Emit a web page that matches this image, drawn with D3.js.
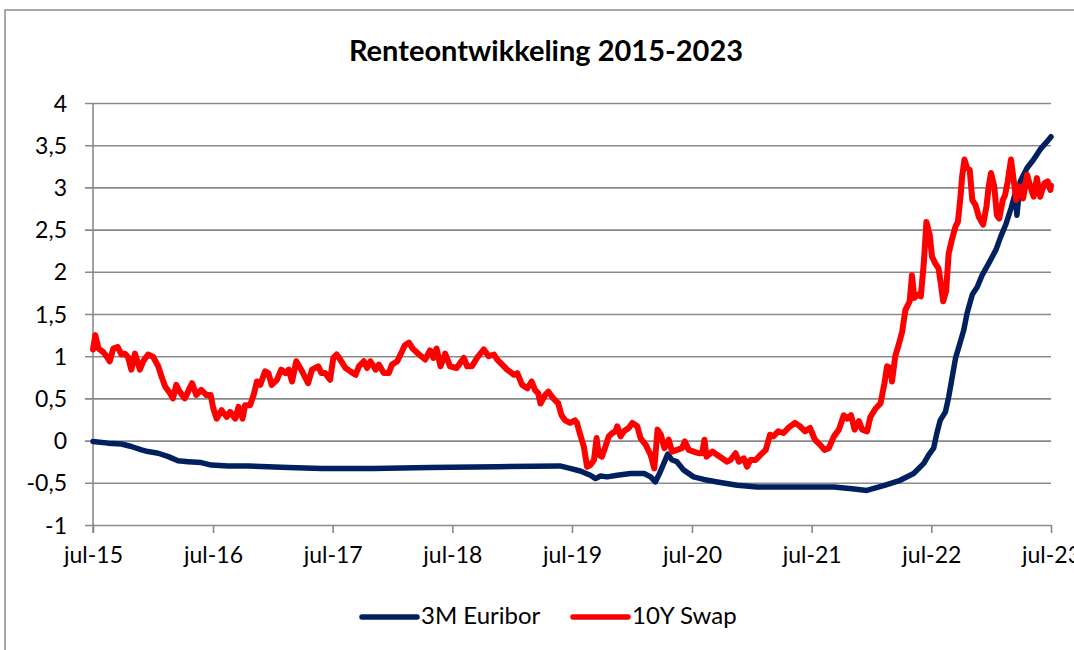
<!DOCTYPE html>
<html>
<head>
<meta charset="utf-8">
<script src="https://cdn.jsdelivr.net/npm/d3@7"></script>
<style>
  body { margin: 0; background: #fff; }
  svg { display: block; font-family: Lato, "Open Sans", sans-serif; }
</style>
</head>
<body>
<div id="chart"></div>
<script>
// Renteontwikkeling 2015-2023: 3M Euribor vs 10Y Swap

const title = 'Renteontwikkeling 2015-2023';
const seriesNames = ['3M Euribor', '10Y Swap'];
const seriesColors = ['#002060', '#ff0000'];

const yTicks = [-1, -0.5, 0, 0.5, 1, 1.5, 2, 2.5, 3, 3.5, 4];
const xTickDates = ['2015-07-01', '2016-07-01', '2017-07-01', '2018-07-01', '2019-07-01',
                    '2020-07-01', '2021-07-01', '2022-07-01', '2023-07-01'];
const xTickLabels = ['jul-15', 'jul-16', 'jul-17', 'jul-18', 'jul-19', 'jul-20', 'jul-21', 'jul-22', 'jul-23'];

// 3M Euribor
const euriborDates = [
  '2015-07-01', '2015-08-16', '2015-09-26', '2015-10-26', '2015-11-26', '2015-12-16',
  '2016-01-16', '2016-02-16', '2016-03-16', '2016-04-16', '2016-05-26', '2016-06-26',
  '2016-08-16', '2016-10-16', '2016-12-16', '2017-02-16', '2017-05-28', '2017-11-01',
  '2018-04-24', '2018-11-15', '2019-05-25', '2019-06-25', '2019-07-26', '2019-08-26',
  '2019-09-11', '2019-09-26', '2019-10-16', '2019-11-16', '2019-12-26', '2020-02-06',
  '2020-02-26', '2020-03-11', '2020-03-24', '2020-04-06', '2020-04-18', '2020-05-01',
  '2020-05-16', '2020-06-06', '2020-07-06', '2020-08-06', '2020-09-16', '2020-11-16',
  '2021-01-16', '2021-04-06', '2021-07-16', '2021-09-07', '2021-11-01', '2021-12-16',
  '2022-02-08', '2022-03-28', '2022-05-08', '2022-06-08', '2022-06-23', '2022-07-08',
  '2022-07-18', '2022-07-28', '2022-08-13', '2022-08-23', '2022-09-03', '2022-09-13',
  '2022-09-26', '2022-10-08', '2022-10-18', '2022-11-03', '2022-11-18', '2022-12-03',
  '2022-12-23', '2023-01-14', '2023-01-29', '2023-02-14', '2023-03-01', '2023-03-14',
  '2023-03-19', '2023-03-29', '2023-04-19', '2023-05-09', '2023-05-29', '2023-06-16',
  '2023-07-01'
];
const euriborValues = [
  -0.01, -0.03, -0.04, -0.07, -0.11, -0.13,
  -0.15, -0.19, -0.24, -0.25, -0.26, -0.29,
  -0.30, -0.30, -0.31, -0.32, -0.33, -0.33,
  -0.32, -0.31, -0.30, -0.33, -0.36, -0.41,
  -0.45, -0.42, -0.43, -0.41, -0.39, -0.39,
  -0.43, -0.49, -0.39, -0.27, -0.16, -0.23,
  -0.25, -0.35, -0.43, -0.46, -0.49, -0.53,
  -0.55, -0.55, -0.55, -0.55, -0.57, -0.59,
  -0.53, -0.47, -0.39, -0.27, -0.17, -0.09,
  0.09, 0.24, 0.34, 0.52, 0.76, 0.98,
  1.15, 1.31, 1.51, 1.73, 1.82, 1.96,
  2.10, 2.26, 2.42, 2.57, 2.75, 2.93,
  2.67, 3.07, 3.23, 3.33, 3.45, 3.53,
  3.60
];

// 10Y Swap
const swapDates = [
  '2015-07-01', '2015-07-08', '2015-07-18', '2015-08-01', '2015-08-11', '2015-08-21',
  '2015-09-01', '2015-09-14', '2015-09-26', '2015-10-06', '2015-10-16', '2015-10-26',
  '2015-11-06', '2015-11-21', '2015-12-01', '2015-12-16', '2016-01-01', '2016-01-16',
  '2016-01-26', '2016-02-06', '2016-02-21', '2016-03-01', '2016-03-11', '2016-03-21',
  '2016-04-06', '2016-04-16', '2016-04-28', '2016-05-11', '2016-05-26', '2016-06-11',
  '2016-06-24', '2016-07-02', '2016-07-12', '2016-07-27', '2016-08-12', '2016-08-22',
  '2016-09-07', '2016-09-17', '2016-09-29', '2016-10-07', '2016-10-22', '2016-11-02',
  '2016-11-12', '2016-11-22', '2016-12-07', '2016-12-17', '2016-12-27', '2017-01-12',
  '2017-01-25', '2017-02-07', '2017-02-17', '2017-02-27', '2017-03-12', '2017-03-27',
  '2017-04-17', '2017-04-29', '2017-05-18', '2017-05-28', '2017-06-08', '2017-06-23',
  '2017-07-03', '2017-07-13', '2017-07-24', '2017-08-09', '2017-08-24', '2017-09-09',
  '2017-09-19', '2017-10-04', '2017-10-14', '2017-10-24', '2017-11-09', '2017-11-19',
  '2017-12-04', '2017-12-19', '2017-12-29', '2018-01-14', '2018-01-24', '2018-02-06',
  '2018-02-19', '2018-03-02', '2018-03-19', '2018-04-09', '2018-04-24', '2018-05-04',
  '2018-05-14', '2018-05-26', '2018-06-09', '2018-06-24', '2018-07-14', '2018-08-05',
  '2018-08-15', '2018-08-30', '2018-09-14', '2018-10-05', '2018-10-20', '2018-11-05',
  '2018-11-15', '2018-11-30', '2018-12-15', '2019-01-05', '2019-01-15', '2019-01-30',
  '2019-02-15', '2019-02-28', '2019-03-10', '2019-03-20', '2019-03-27', '2019-04-10',
  '2019-04-20', '2019-05-05', '2019-05-20', '2019-05-30', '2019-06-10', '2019-06-25',
  '2019-07-10', '2019-07-16', '2019-07-26', '2019-08-06', '2019-08-16', '2019-08-26',
  '2019-09-06', '2019-09-14', '2019-09-21', '2019-09-30', '2019-10-11', '2019-10-21',
  '2019-11-01', '2019-11-11', '2019-11-16', '2019-11-26', '2019-12-06', '2019-12-21',
  '2020-01-01', '2020-01-16', '2020-01-26', '2020-02-11', '2020-02-26', '2020-03-08',
  '2020-03-18', '2020-03-28', '2020-04-08', '2020-04-21', '2020-05-01', '2020-05-16',
  '2020-06-01', '2020-06-09', '2020-06-21', '2020-07-06', '2020-07-21', '2020-08-01',
  '2020-08-08', '2020-08-14', '2020-09-01', '2020-09-16', '2020-10-01', '2020-10-16',
  '2020-10-26', '2020-11-11', '2020-11-21', '2020-12-06', '2020-12-16', '2020-12-26',
  '2021-01-11', '2021-01-26', '2021-02-11', '2021-02-24', '2021-03-06', '2021-03-21',
  '2021-04-06', '2021-04-21', '2021-05-11', '2021-05-26', '2021-06-11', '2021-06-26',
  '2021-07-11', '2021-07-27', '2021-08-09', '2021-08-22', '2021-09-07', '2021-09-22',
  '2021-10-07', '2021-10-17', '2021-10-29', '2021-11-09', '2021-11-22', '2021-12-02',
  '2021-12-17', '2021-12-27', '2022-01-12', '2022-01-27', '2022-02-08', '2022-02-16',
  '2022-02-26', '2022-03-03', '2022-03-13', '2022-03-23', '2022-04-03', '2022-04-13',
  '2022-04-26', '2022-05-03', '2022-05-10', '2022-05-20', '2022-05-30', '2022-06-08',
  '2022-06-16', '2022-06-26', '2022-07-03', '2022-07-13', '2022-07-23', '2022-07-30',
  '2022-08-06', '2022-08-15', '2022-08-23', '2022-09-03', '2022-09-13', '2022-09-20',
  '2022-09-28', '2022-10-03', '2022-10-10', '2022-10-18', '2022-10-26', '2022-11-03',
  '2022-11-13', '2022-11-23', '2022-12-06', '2022-12-16', '2022-12-23', '2022-12-30',
  '2023-01-09', '2023-01-17', '2023-01-24', '2023-02-04', '2023-02-11', '2023-02-19',
  '2023-03-01', '2023-03-09', '2023-03-17', '2023-03-27', '2023-04-07', '2023-04-19',
  '2023-04-29', '2023-05-09', '2023-05-19', '2023-05-29', '2023-06-11', '2023-06-21',
  '2023-06-29', '2023-07-01'
];
const swapValues = [
  1.08, 1.25, 1.09, 1.05, 1.00, 0.94,
  1.09, 1.11, 1.02, 1.03, 0.99, 0.84,
  1.03, 0.84, 0.94, 1.02, 0.99, 0.88,
  0.76, 0.64, 0.56, 0.50, 0.66, 0.58,
  0.50, 0.58, 0.68, 0.54, 0.60, 0.54,
  0.54, 0.38, 0.26, 0.36, 0.28, 0.34,
  0.26, 0.40, 0.26, 0.42, 0.42, 0.54,
  0.70, 0.66, 0.82, 0.80, 0.66, 0.72,
  0.84, 0.80, 0.84, 0.70, 0.94, 0.84,
  0.68, 0.84, 0.88, 0.80, 0.80, 0.72,
  0.98, 1.02, 0.96, 0.86, 0.82, 0.78,
  0.88, 0.94, 0.86, 0.94, 0.84, 0.90,
  0.80, 0.80, 0.90, 0.94, 1.02, 1.13,
  1.16, 1.09, 1.03, 0.96, 1.07, 0.98,
  1.09, 0.88, 1.03, 0.88, 0.86, 0.98,
  0.88, 0.88, 0.98, 1.08, 1.00, 1.02,
  0.96, 0.90, 0.84, 0.78, 0.80, 0.66,
  0.62, 0.70, 0.60, 0.56, 0.44, 0.54,
  0.58, 0.50, 0.44, 0.30, 0.24, 0.21,
  0.24, 0.21, 0.07, -0.07, -0.31, -0.29,
  -0.23, 0.03, -0.17, -0.19, -0.07, 0.05,
  0.09, 0.11, 0.17, 0.05, 0.11, 0.15,
  0.21, 0.17, 0.03, -0.05, -0.17, -0.33,
  0.13, 0.07, -0.09, 0.01, -0.13, -0.11,
  -0.09, -0.01, -0.11, -0.13, -0.15, -0.15,
  0.01, -0.19, -0.13, -0.17, -0.21, -0.25,
  -0.23, -0.15, -0.25, -0.21, -0.31, -0.23,
  -0.23, -0.17, -0.11, 0.07, 0.05, 0.11,
  0.09, 0.15, 0.21, 0.17, 0.11, 0.15,
  0.01, -0.05, -0.11, -0.09, 0.05, 0.13,
  0.30, 0.26, 0.30, 0.13, 0.23, 0.13,
  0.11, 0.28, 0.38, 0.44, 0.68, 0.88,
  0.86, 0.70, 1.00, 1.13, 1.29, 1.55,
  1.65, 1.96, 1.69, 1.73, 1.71, 2.10,
  2.59, 2.44, 2.18, 2.10, 2.04, 1.86,
  1.65, 1.77, 2.22, 2.40, 2.54, 2.59,
  2.89, 3.13, 3.33, 3.23, 3.21, 2.85,
  2.79, 2.65, 2.56, 2.77, 3.01, 3.17,
  3.01, 2.67, 2.63, 2.85, 2.91, 3.07,
  3.33, 3.09, 2.85, 3.01, 2.87, 3.15,
  3.01, 2.89, 3.11, 2.89, 3.05, 3.07,
  2.97, 3.02
];

const width = 1074;
const height = 650;
const plot = {left: 93, right: 1051, top: 103, bottom: 525};
const gridColor = '#8a8a8a';

const parseDate = d3.timeParse('%Y-%m-%d');
const nl = d3.formatLocale({decimal: ',', thousands: '.', grouping: [3], currency: ['€', ''], minus: '-'});
const fmt = nl.format('~g');

const series = [
  euriborDates.map((d, i) => ({date: parseDate(d), value: euriborValues[i]})),
  swapDates.map((d, i) => ({date: parseDate(d), value: swapValues[i]}))
];

const svg = d3.select('#chart')
  .append('svg')
  .attr('width', width)
  .attr('height', height);

// chart frame (runs off the right and bottom edge like the source)
svg.append('rect')
  .attr('x', 5).attr('y', 10)
  .attr('width', 1200).attr('height', 800)
  .attr('fill', '#fff')
  .attr('stroke', '#8c8c8c')
  .attr('stroke-width', 1.5);

const x = d3.scaleTime()
  .domain([parseDate(xTickDates[0]), parseDate(xTickDates[xTickDates.length - 1])])
  .range([plot.left, plot.right]);

const y = d3.scaleLinear()
  .domain([yTicks[0], yTicks[yTicks.length - 1]])
  .range([plot.bottom, plot.top]);

// horizontal gridlines + left ticks
const yAxis = svg.append('g')
  .attr('transform', `translate(${plot.left},0)`)
  .call(d3.axisLeft(y)
    .tickValues(yTicks)
    .tickSizeInner(-(plot.right - plot.left))
    .tickSizeOuter(0)
    .tickPadding(0)
    .tickFormat(''));
yAxis.select('.domain').remove();
yAxis.selectAll('.tick line')
  .attr('x1', -8)
  .attr('stroke', gridColor)
  .attr('stroke-width', 1.6);
yAxis.selectAll('.tick').append('text')
  .attr('x', -26)
  .attr('dy', '0.35em')
  .attr('text-anchor', 'end')
  .attr('fill', '#000')
  .style('font-size', '23px')
  .text(d => fmt(d));

// vertical axis line
svg.append('line')
  .attr('x1', plot.left).attr('x2', plot.left)
  .attr('y1', plot.top).attr('y2', plot.bottom + 8)
  .attr('stroke', gridColor)
  .attr('stroke-width', 1.6);

// x axis ticks + labels
const xAxis = svg.append('g')
  .attr('transform', `translate(0,${plot.bottom})`)
  .call(d3.axisBottom(x)
    .tickValues(xTickDates.map(parseDate))
    .tickSizeInner(8)
    .tickSizeOuter(0)
    .tickPadding(14)
    .tickFormat((d, i) => xTickLabels[i]));
xAxis.select('.domain').remove();
xAxis.selectAll('.tick line')
  .attr('stroke', gridColor)
  .attr('stroke-width', 1.6);
xAxis.selectAll('.tick text')
  .attr('fill', '#000')
  .style('font-size', '23px');
xAxis.attr('font-family', null).attr('font-size', null);
yAxis.attr('font-family', null).attr('font-size', null);

// lines
const line = d3.line()
  .x(d => x(d.date))
  .y(d => y(d.value));

series.forEach((s, i) => {
  svg.append('path')
    .datum(s)
    .attr('fill', 'none')
    .attr('stroke', seriesColors[i])
    .attr('stroke-width', i === 0 ? 5.5 : 6)
    .attr('stroke-linejoin', 'round')
    .attr('stroke-linecap', 'round')
    .attr('d', line);
});

// title
svg.append('text')
  .attr('x', 546)
  .attr('y', 61)
  .attr('text-anchor', 'middle')
  .style('font-size', '29px')
  .style('font-weight', 'bold')
  .text(title);

// legend
const legendItems = [{x: 362, label: seriesNames[0]}, {x: 573, label: seriesNames[1]}];
const legend = svg.append('g').attr('class', 'legend');
legendItems.forEach((d, i) => {
  legend.append('line')
    .attr('x1', d.x).attr('x2', d.x + 55)
    .attr('y1', 617).attr('y2', 617)
    .attr('stroke', seriesColors[i])
    .attr('stroke-width', 5.5)
    .attr('stroke-linecap', 'round');
  legend.append('text')
    .attr('x', d.x + 59)
    .attr('y', 624)
    .style('font-size', '24px')
    .text(d.label);
});
</script>
</body>
</html>
